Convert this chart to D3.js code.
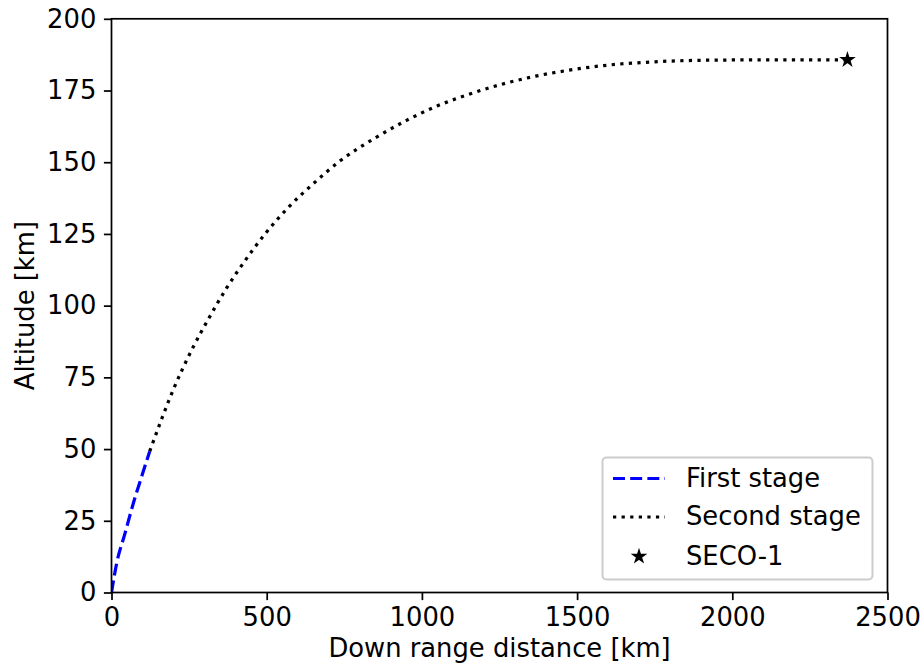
<!DOCTYPE html>
<html>
<head>
<meta charset="utf-8">
<script src="https://cdn.jsdelivr.net/npm/d3@7"></script>
<style>
  html, body { margin: 0; padding: 0; background: #fff; }
  svg { display: block; }
  text { font-family: "DejaVu Sans", sans-serif; fill: #000; }
</style>
</head>
<body>
<svg id="chart" width="922" height="667"></svg>
<script>
// Trajectory: down range distance [km] vs altitude [km]
const firstStageX = [0, 16.5, 43.5, 70.3, 97.4, 123];
const firstStageY = [0, 10.1, 20.6, 31.1, 40.5, 49.2];

const secondStageX = [123, 201, 260, 313, 370, 431, 497, 571, 651, 738, 850, 949, 1049, 1152, 1258, 1366, 1475, 1586, 1747, 1951, 2165, 2371];
const secondStageY = [49.2, 71.2, 84.9, 95.5, 106, 115.8, 125.3, 134.4, 142.6, 150.6, 158.5, 164.5, 169.6, 173.7, 177.2, 180, 182.1, 183.7, 185.0, 185.6, 185.7, 185.7];

const secoX = [2371];
const secoY = [185.7];

const xTicks = [0, 500, 1000, 1500, 2000, 2500];
const yTicks = [0, 25, 50, 75, 100, 125, 150, 175, 200];

const legendLabels = ["First stage", "Second stage", "SECO-1"];

const FONT = 25.8;
const LW = 3.24;
const dashed = `${3.7 * LW},${1.6 * LW}`;
const dotted = `${1 * LW},${1.65 * LW}`;

const svg = d3.select("#chart");
const plot = { left: 111.5, right: 887.5, top: 18.8, bottom: 592.5 };

const x = d3.scaleLinear().domain([0, 2500]).range([plot.left, plot.right]);
const y = d3.scaleLinear().domain([0, 200]).range([plot.bottom, plot.top]);

const zip = (xs, ys) => xs.map((v, i) => [v, ys[i]]);
const line = d3.line().x(d => x(d[0])).y(d => y(d[1])).curve(d3.curveMonotoneX);

// Clip marks to the axes area
svg.append("defs").append("clipPath").attr("id", "clip")
  .append("rect")
  .attr("x", plot.left).attr("y", plot.top)
  .attr("width", plot.right - plot.left).attr("height", plot.bottom - plot.top);

const marks = svg.append("g").attr("clip-path", "url(#clip)");

marks.append("path")
  .datum(zip(firstStageX, firstStageY))
  .attr("d", line)
  .attr("fill", "none")
  .attr("stroke", "#0000ff")
  .attr("stroke-width", LW)
  .attr("stroke-dasharray", dashed);

marks.append("path")
  .datum(zip(secondStageX, secondStageY))
  .attr("d", line)
  .attr("fill", "none")
  .attr("stroke", "#000")
  .attr("stroke-width", LW)
  .attr("stroke-dasharray", dotted);

// Star marker: filled with a thin edge of the same colour
const star = d3.symbol().type(d3.symbolStar).size(38);
const styleStar = sel => sel
  .attr("d", star)
  .attr("fill", "#000")
  .attr("stroke", "#000")
  .attr("stroke-width", 1.8)
  .attr("stroke-linejoin", "miter");

svg.append("g").selectAll("path.seco")
  .data(zip(secoX, secoY))
  .join("path")
  .attr("class", "seco")
  .attr("transform", d => `translate(${x(d[0])},${y(d[1])})`)
  .call(styleStar);

// Axes
const xAxis = d3.axisBottom(x).tickValues(xTicks).tickSize(7.6).tickPadding(7.6).tickFormat(d3.format("d"));
const yAxis = d3.axisLeft(y).tickValues(yTicks).tickSize(7.6).tickPadding(7.6).tickFormat(d3.format("d"));

const gx = svg.append("g").attr("transform", `translate(0,${plot.bottom})`).call(xAxis);
const gy = svg.append("g").attr("transform", `translate(${plot.left},0)`).call(yAxis);

[gx, gy].forEach(g => {
  g.select(".domain").remove();
  g.selectAll(".tick line").attr("stroke", "#000").attr("stroke-width", 1.73);
  g.selectAll(".tick text").attr("font-size", FONT).attr("font-family", "DejaVu Sans, sans-serif").attr("fill", "#000");
});

// Frame
svg.append("rect")
  .attr("x", plot.left).attr("y", plot.top)
  .attr("width", plot.right - plot.left).attr("height", plot.bottom - plot.top)
  .attr("fill", "none").attr("stroke", "#000").attr("stroke-width", 1.73);

// Axis titles
svg.append("text")
  .attr("x", (plot.left + plot.right) / 2).attr("y", 657)
  .attr("text-anchor", "middle").attr("font-size", FONT)
  .text("Down range distance [km]");

svg.append("text")
  .attr("transform", `translate(34,${(plot.top + plot.bottom) / 2}) rotate(-90)`)
  .attr("text-anchor", "middle").attr("font-size", FONT)
  .text("Altitude [km]");

// Legend
const legend = svg.append("g");
legend.append("rect")
  .attr("x", 602.5).attr("y", 457.5).attr("width", 270).attr("height", 122)
  .attr("rx", 4).attr("fill", "#fff").attr("fill-opacity", 0.8)
  .attr("stroke", "#cccccc").attr("stroke-width", 2);

const rowY = [478.5, 517, 556.5];

legend.append("line")
  .attr("x1", 613).attr("x2", 665).attr("y1", rowY[0]).attr("y2", rowY[0])
  .attr("stroke", "#0000ff").attr("stroke-width", LW).attr("stroke-dasharray", dashed);

legend.append("line")
  .attr("x1", 613).attr("x2", 665).attr("y1", rowY[1]).attr("y2", rowY[1])
  .attr("stroke", "#000").attr("stroke-width", LW).attr("stroke-dasharray", dotted);

legend.append("path")
  .attr("transform", `translate(639,${rowY[2]})`)
  .call(styleStar);

legend.selectAll("text.lbl")
  .data(legendLabels)
  .join("text")
  .attr("class", "lbl")
  .attr("x", 686)
  .attr("y", (d, i) => rowY[i] + 8)
  .attr("font-size", FONT)
  .text(d => d);
</script>
</body>
</html>
